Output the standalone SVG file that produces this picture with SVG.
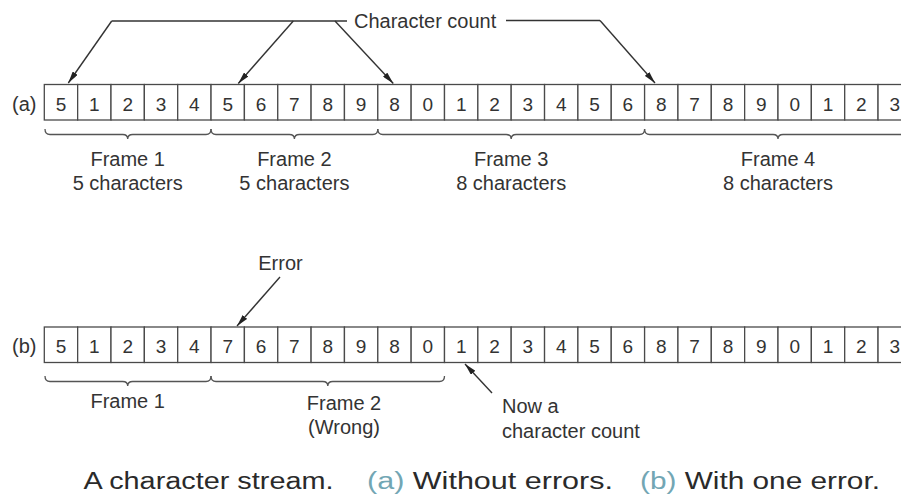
<svg xmlns="http://www.w3.org/2000/svg" width="901" height="500" viewBox="0 0 901 500">
<defs>
<style>
.bg{fill:#ffffff}
.cell{fill:#ffffff;stroke:#4a4a4a;stroke-width:1.3}
.d{font-family:"Liberation Sans",Arial,sans-serif;font-size:19px;fill:#333333;text-anchor:middle}
.t{font-family:"Liberation Sans",Arial,sans-serif;font-size:20px;fill:#333333}
.c{text-anchor:middle}
.ln{fill:none;stroke:#333333;stroke-width:1.4}
.br{fill:none;stroke:#555555;stroke-width:1.3}
.cap{font-family:"Liberation Sans",Arial,sans-serif;font-size:23.5px;fill:#2a2a2a}
.lab{fill:#72a6b4}
</style>
<marker id="ah" viewBox="0 0 12 6" refX="12" refY="3" markerWidth="12" markerHeight="6" markerUnits="userSpaceOnUse" orient="auto">
<path d="M0,0 L12,3 L0,6 Z" fill="#222222"/>
</marker>
</defs>
<rect class="bg" x="0" y="0" width="901" height="500"/>

<g id="rowA">
<text class="t" x="12" y="111">(a)</text>
<g id="a0"><rect class="cell" x="44.3" y="84.5" width="33.35" height="35.5"/><text class="d" x="61" y="111">5</text></g>
<g id="a1"><rect class="cell" x="77.65" y="84.5" width="33.35" height="35.5"/><text class="d" x="94.3" y="111">1</text></g>
<g id="a2"><rect class="cell" x="111" y="84.5" width="33.35" height="35.5"/><text class="d" x="127.7" y="111">2</text></g>
<g id="a3"><rect class="cell" x="144.35" y="84.5" width="33.35" height="35.5"/><text class="d" x="161" y="111">3</text></g>
<g id="a4"><rect class="cell" x="177.7" y="84.5" width="33.35" height="35.5"/><text class="d" x="194.4" y="111">4</text></g>
<g id="a5"><rect class="cell" x="211.05" y="84.5" width="33.35" height="35.5"/><text class="d" x="227.7" y="111">5</text></g>
<g id="a6"><rect class="cell" x="244.4" y="84.5" width="33.35" height="35.5"/><text class="d" x="261.1" y="111">6</text></g>
<g id="a7"><rect class="cell" x="277.75" y="84.5" width="33.35" height="35.5"/><text class="d" x="294.4" y="111">7</text></g>
<g id="a8"><rect class="cell" x="311.1" y="84.5" width="33.35" height="35.5"/><text class="d" x="327.8" y="111">8</text></g>
<g id="a9"><rect class="cell" x="344.45" y="84.5" width="33.35" height="35.5"/><text class="d" x="361.1" y="111">9</text></g>
<g id="a10"><rect class="cell" x="377.8" y="84.5" width="33.35" height="35.5"/><text class="d" x="394.5" y="111">8</text></g>
<g id="a11"><rect class="cell" x="411.15" y="84.5" width="33.35" height="35.5"/><text class="d" x="427.8" y="111">0</text></g>
<g id="a12"><rect class="cell" x="444.5" y="84.5" width="33.35" height="35.5"/><text class="d" x="461.2" y="111">1</text></g>
<g id="a13"><rect class="cell" x="477.85" y="84.5" width="33.35" height="35.5"/><text class="d" x="494.5" y="111">2</text></g>
<g id="a14"><rect class="cell" x="511.2" y="84.5" width="33.35" height="35.5"/><text class="d" x="527.9" y="111">3</text></g>
<g id="a15"><rect class="cell" x="544.55" y="84.5" width="33.35" height="35.5"/><text class="d" x="561.2" y="111">4</text></g>
<g id="a16"><rect class="cell" x="577.9" y="84.5" width="33.35" height="35.5"/><text class="d" x="594.6" y="111">5</text></g>
<g id="a17"><rect class="cell" x="611.25" y="84.5" width="33.35" height="35.5"/><text class="d" x="627.9" y="111">6</text></g>
<g id="a18"><rect class="cell" x="644.6" y="84.5" width="33.35" height="35.5"/><text class="d" x="661.3" y="111">8</text></g>
<g id="a19"><rect class="cell" x="677.95" y="84.5" width="33.35" height="35.5"/><text class="d" x="694.6" y="111">7</text></g>
<g id="a20"><rect class="cell" x="711.3" y="84.5" width="33.35" height="35.5"/><text class="d" x="728" y="111">8</text></g>
<g id="a21"><rect class="cell" x="744.65" y="84.5" width="33.35" height="35.5"/><text class="d" x="761.3" y="111">9</text></g>
<g id="a22"><rect class="cell" x="778" y="84.5" width="33.35" height="35.5"/><text class="d" x="794.7" y="111">0</text></g>
<g id="a23"><rect class="cell" x="811.35" y="84.5" width="33.35" height="35.5"/><text class="d" x="828" y="111">1</text></g>
<g id="a24"><rect class="cell" x="844.7" y="84.5" width="33.35" height="35.5"/><text class="d" x="861.4" y="111">2</text></g>
<g id="a25"><rect class="cell" x="878.05" y="84.5" width="33.35" height="35.5"/><text class="d" x="894.7" y="111">3</text></g>
</g>

<g id="rowB">
<text class="t" x="12" y="353">(b)</text>
<g id="b0"><rect class="cell" x="44.3" y="327" width="33.35" height="35.5"/><text class="d" x="61" y="353">5</text></g>
<g id="b1"><rect class="cell" x="77.65" y="327" width="33.35" height="35.5"/><text class="d" x="94.3" y="353">1</text></g>
<g id="b2"><rect class="cell" x="111" y="327" width="33.35" height="35.5"/><text class="d" x="127.7" y="353">2</text></g>
<g id="b3"><rect class="cell" x="144.35" y="327" width="33.35" height="35.5"/><text class="d" x="161" y="353">3</text></g>
<g id="b4"><rect class="cell" x="177.7" y="327" width="33.35" height="35.5"/><text class="d" x="194.4" y="353">4</text></g>
<g id="b5"><rect class="cell" x="211.05" y="327" width="33.35" height="35.5"/><text class="d" x="227.7" y="353">7</text></g>
<g id="b6"><rect class="cell" x="244.4" y="327" width="33.35" height="35.5"/><text class="d" x="261.1" y="353">6</text></g>
<g id="b7"><rect class="cell" x="277.75" y="327" width="33.35" height="35.5"/><text class="d" x="294.4" y="353">7</text></g>
<g id="b8"><rect class="cell" x="311.1" y="327" width="33.35" height="35.5"/><text class="d" x="327.8" y="353">8</text></g>
<g id="b9"><rect class="cell" x="344.45" y="327" width="33.35" height="35.5"/><text class="d" x="361.1" y="353">9</text></g>
<g id="b10"><rect class="cell" x="377.8" y="327" width="33.35" height="35.5"/><text class="d" x="394.5" y="353">8</text></g>
<g id="b11"><rect class="cell" x="411.15" y="327" width="33.35" height="35.5"/><text class="d" x="427.8" y="353">0</text></g>
<g id="b12"><rect class="cell" x="444.5" y="327" width="33.35" height="35.5"/><text class="d" x="461.2" y="353">1</text></g>
<g id="b13"><rect class="cell" x="477.85" y="327" width="33.35" height="35.5"/><text class="d" x="494.5" y="353">2</text></g>
<g id="b14"><rect class="cell" x="511.2" y="327" width="33.35" height="35.5"/><text class="d" x="527.9" y="353">3</text></g>
<g id="b15"><rect class="cell" x="544.55" y="327" width="33.35" height="35.5"/><text class="d" x="561.2" y="353">4</text></g>
<g id="b16"><rect class="cell" x="577.9" y="327" width="33.35" height="35.5"/><text class="d" x="594.6" y="353">5</text></g>
<g id="b17"><rect class="cell" x="611.25" y="327" width="33.35" height="35.5"/><text class="d" x="627.9" y="353">6</text></g>
<g id="b18"><rect class="cell" x="644.6" y="327" width="33.35" height="35.5"/><text class="d" x="661.3" y="353">8</text></g>
<g id="b19"><rect class="cell" x="677.95" y="327" width="33.35" height="35.5"/><text class="d" x="694.6" y="353">7</text></g>
<g id="b20"><rect class="cell" x="711.3" y="327" width="33.35" height="35.5"/><text class="d" x="728" y="353">8</text></g>
<g id="b21"><rect class="cell" x="744.65" y="327" width="33.35" height="35.5"/><text class="d" x="761.3" y="353">9</text></g>
<g id="b22"><rect class="cell" x="778" y="327" width="33.35" height="35.5"/><text class="d" x="794.7" y="353">0</text></g>
<g id="b23"><rect class="cell" x="811.35" y="327" width="33.35" height="35.5"/><text class="d" x="828" y="353">1</text></g>
<g id="b24"><rect class="cell" x="844.7" y="327" width="33.35" height="35.5"/><text class="d" x="861.4" y="353">2</text></g>
<g id="b25"><rect class="cell" x="878.05" y="327" width="33.35" height="35.5"/><text class="d" x="894.7" y="353">3</text></g>
</g>

<g id="braces">
<path class="br" d="M45,129 Q45,134.5 50,134.5 L122.7,134.5 Q127.7,134.5 127.7,139 Q127.7,134.5 132.7,134.5 L206,134.5 Q211,134.5 211,129"/>
<path class="br" d="M211,129 Q211,134.5 216,134.5 L289.4,134.5 Q294.4,134.5 294.4,139 Q294.4,134.5 299.4,134.5 L372.8,134.5 Q377.8,134.5 377.8,129"/>
<path class="br" d="M377.8,129 Q377.8,134.5 382.8,134.5 L506.2,134.5 Q511.2,134.5 511.2,139 Q511.2,134.5 516.2,134.5 L639.6,134.5 Q644.6,134.5 644.6,129"/>
<path class="br" d="M644.6,129 Q644.6,134.5 649.6,134.5 L773,134.5 Q778,134.5 778,139 Q778,134.5 783,134.5 L906,134.5 Q911,134.5 911,129"/>
<path class="br" d="M45,376 Q45,381.5 50,381.5 L122.7,381.5 Q127.7,381.5 127.7,386 Q127.7,381.5 132.7,381.5 L206,381.5 Q211,381.5 211,376"/>
<path class="br" d="M211,376 Q211,381.5 216,381.5 L322.8,381.5 Q327.8,381.5 327.8,386 Q327.8,381.5 332.8,381.5 L439.5,381.5 Q444.5,381.5 444.5,376"/>
</g>

<g id="labels">
<text class="t c" x="127.7" y="166">Frame 1</text>
<text class="t c" x="127.7" y="190">5 characters</text>
<text class="t c" x="294.4" y="166">Frame 2</text>
<text class="t c" x="294.4" y="190">5 characters</text>
<text class="t c" x="511.2" y="166">Frame 3</text>
<text class="t c" x="511.2" y="190">8 characters</text>
<text class="t c" x="778" y="166">Frame 4</text>
<text class="t c" x="778" y="190">8 characters</text>
<text class="t" x="354" y="28">Character count</text>
<text class="t c" x="280.5" y="270">Error</text>
<text class="t c" x="127.7" y="408">Frame 1</text>
<text class="t c" x="344" y="410">Frame 2</text>
<text class="t c" x="344" y="434">(Wrong)</text>
<text class="t" x="502" y="413">Now a</text>
<text class="t" x="502" y="438">character count</text>
</g>

<g id="connectors">
<path class="ln" d="M347,21 L111.7,21"/>
<path class="ln" d="M506,20.5 L600,20.5"/>
<path class="ln" d="M111.7,21 L68.3,83" marker-end="url(#ah)"/>
<path class="ln" d="M293.3,21 L238.3,83.5" marker-end="url(#ah)"/>
<path class="ln" d="M335,21 L393.3,83.5" marker-end="url(#ah)"/>
<path class="ln" d="M600,20.5 L655,83" marker-end="url(#ah)"/>
<path class="ln" d="M280,277 L237,326" marker-end="url(#ah)"/>
<path class="ln" d="M492,393 L465,364" marker-end="url(#ah)"/>
</g>

<g id="caption">
<text class="cap" x="83.5" y="489" textLength="250" lengthAdjust="spacingAndGlyphs">A character stream.</text>
<text class="cap" x="367" y="489" textLength="246" lengthAdjust="spacingAndGlyphs"><tspan class="lab">(a)</tspan> Without errors.</text>
<text class="cap" x="640" y="489" textLength="240" lengthAdjust="spacingAndGlyphs"><tspan class="lab">(b)</tspan> With one error.</text>
</g>
</svg>
